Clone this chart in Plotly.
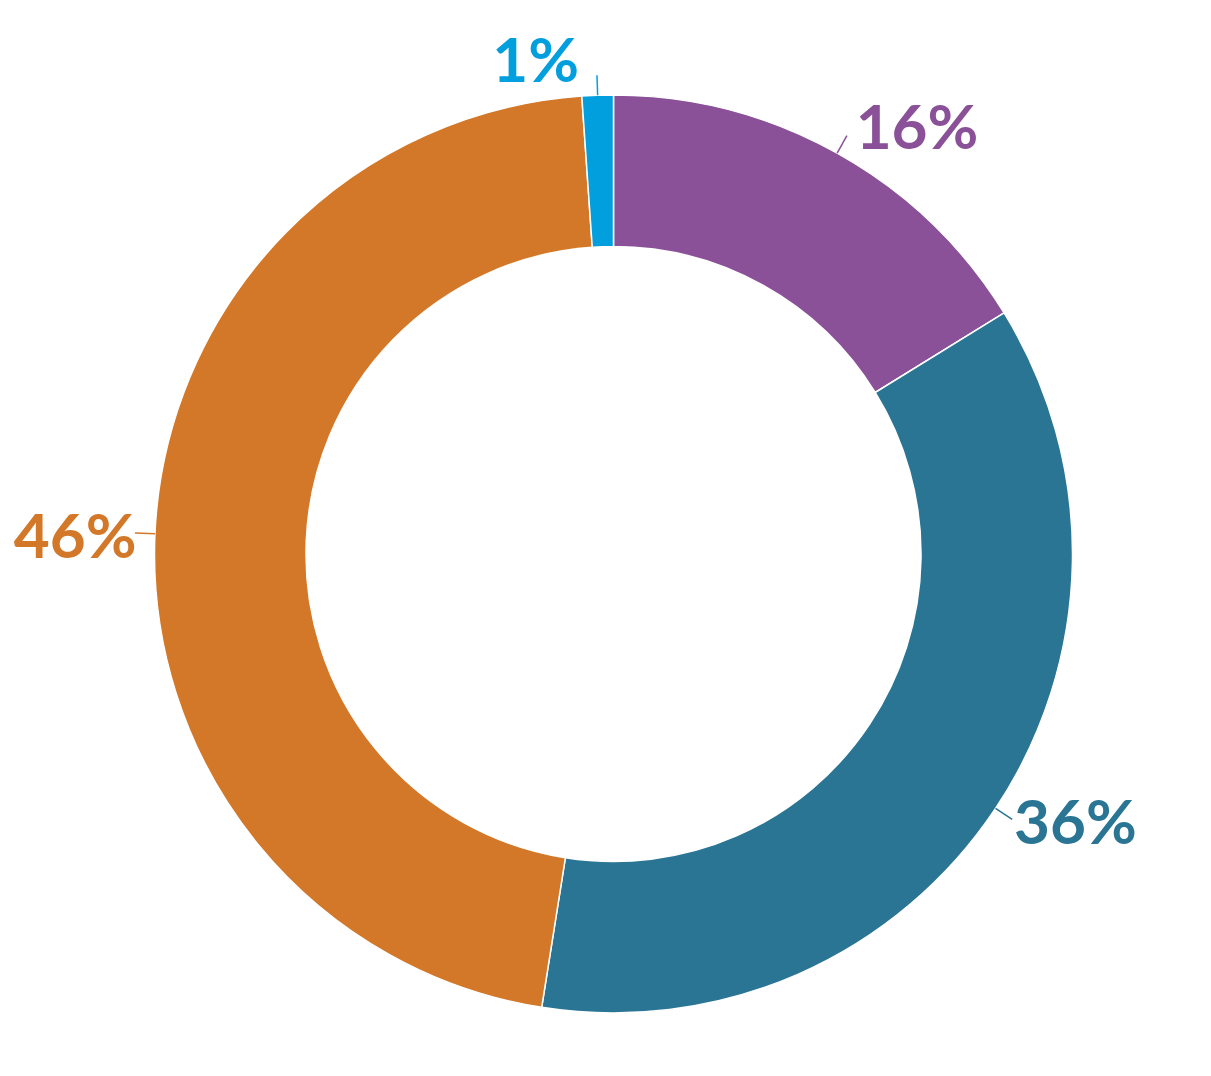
import math
import plotly.graph_objects as go

# slice data, clockwise from 12 o'clock
labels = ['Purple', 'Teal', 'Orange', 'Blue']
values = [16.2, 36.3, 46.4, 1.1]
colors = ['#8B5198', '#2A7594', '#D37828', '#029FDF']

W, H = 1211, 1076
margin = dict(l=0, r=0, t=87, b=71)
radius = min(W - margin['l'] - margin['r'], H - margin['t'] - margin['b']) / 2

fig = go.Figure(go.Pie(
    labels=labels,
    values=values,
    hole=0.67,
    sort=False,
    direction='clockwise',
    rotation=0,
    automargin=False,
    marker=dict(colors=colors, line=dict(color='white', width=1.5)),
    textposition='outside',
    texttemplate='%{percent:.0%}',
    textfont=dict(family='Lato', size=62, color=colors, weight='bold'),
    hoverinfo='label+percent',
))

# short radial leader lines at each slice's mid angle
total = sum(values)
cum = 0
for v, c in zip(values, colors):
    mid = (cum + v / 2) / total * 2 * math.pi
    cum += v
    s, co = math.sin(mid), math.cos(mid)
    fig.add_shape(
        type='line', xref='paper', yref='paper',
        xsizemode='pixel', ysizemode='pixel', xanchor=0.5, yanchor=0.5,
        x0=radius * s, y0=radius * co,
        x1=(radius + 20) * s, y1=(radius + 20) * co,
        line=dict(color=c, width=1.5),
    )

fig.update_layout(
    width=W,
    height=H,
    showlegend=False,
    margin=margin,
    paper_bgcolor='white',
    plot_bgcolor='white',
)

fig.write_html("out.html")
